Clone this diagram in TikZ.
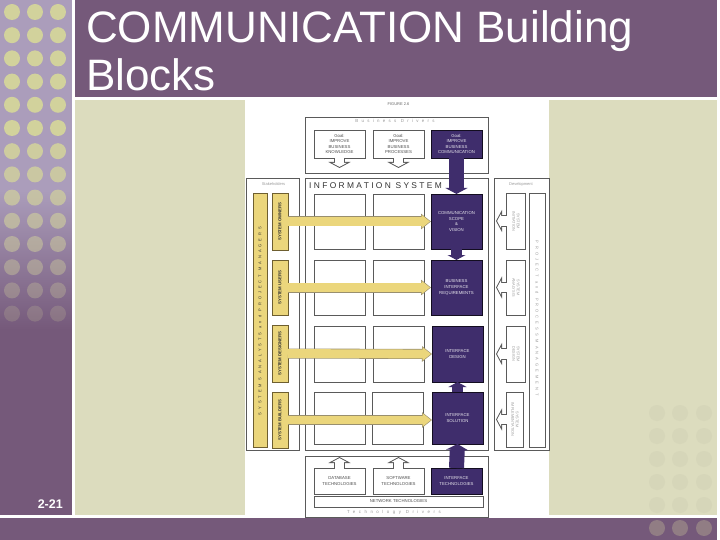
\documentclass[tikz,border=0pt]{standalone}
\usepackage{fontspec}
\setmainfont{Liberation Sans}
\usetikzlibrary{arrows.meta,positioning}
\definecolor{slide purple}{HTML}{75597A}
\definecolor{strip purple}{HTML}{AB9DBB}
\definecolor{slide beige}{HTML}{DCDCBE}
\definecolor{dot beige}{HTML}{D2D29C}
\definecolor{deep purple}{HTML}{3F2D6C}
\definecolor{soft yellow}{HTML}{EBD67C}
\definecolor{yellow edge}{HTML}{6E5F30}
\definecolor{frame grey}{HTML}{5A5A5A}
\definecolor{label grey}{HTML}{9A9A9A}
\tikzset {
  block node/.style = {
    rectangle,
    inner sep = 0,
    outer sep = 0,
    align = center
  },
  % frame round a group of boxes
  frame/.style = {
    block node,
    draw = frame grey,
    line width = 0.7pt,
    anchor = north west
  },
  % white box of one column
  plain/.style = {
    block node,
    draw = frame grey,
    fill = white,
    line width = 0.7pt,
    text = black!70,
    font = \fontsize{4.3}{5.6}\selectfont
  },
  % purple box of the communication column
  deep/.style = {
    block node,
    draw = black!70!deep purple,
    fill = deep purple,
    line width = 0.6pt,
    text = white!88!deep purple,
    font = \fontsize{4.3}{5.6}\selectfont
  },
  % stakeholder box
  role/.style = {
    block node,
    draw = yellow edge,
    fill = soft yellow,
    line width = 0.7pt,
    text = black!80,
    font = \fontsize{4.3}{4.5}\selectfont\bfseries
  },
  % development box
  phase/.style = {
    block node,
    draw = frame grey,
    fill = white,
    line width = 0.7pt,
    text = label grey,
    font = \fontsize{3.8}{4.6}\selectfont
  },
  size/.style 2 args = {
    minimum width = #1,
    minimum height = #2
  },
  spaced/.style 2 args = {
    inner sep = 0,
    font = \fontsize{#1}{#1}\selectfont\addfontfeature{LetterSpace=#2}
  },
  small label/.style = {
    inner sep = 0,
    text = label grey,
    font = \fontsize{4}{5}\selectfont
  },
  % filled arrow between purple boxes
  big arr/.style = {
    draw = deep purple,
    line width = 15pt,
    -{Triangle[length=6pt,width=22pt]}
  },
  small arr/.style = {
    draw = deep purple,
    line width = 10.5pt,
    -{Triangle[length=5pt,width=18pt]}
  },
  % outlined arrows
  yellow arr/.style = {
    draw = soft yellow,
    line width = 8.8pt,
    shorten > = 1pt,
    -{Triangle[length=8.4pt,width=12.6pt]},
    preaction = {
      draw = yellow edge!70,
      line width = 10pt,
      shorten > = 0pt,
      -{Triangle[length=10pt,width=15pt]}
    }
  },
  white arr/.style = {
    draw = white,
    line width = 9.6pt,
    shorten > = 1.14pt,
    shorten < = -1pt,
    -{Triangle[length=3.86pt,width=14.2pt]},
    preaction = {
      draw = frame grey,
      line width = 11.6pt,
      shorten > = 0pt,
      shorten < = 0pt,
      -{Triangle[length=6pt,width=22pt]}
    }
  }
}
\begin{document}
\begin{tikzpicture}[x=1pt,y=-1pt]
    \useasboundingbox (0,0) rectangle (720,540);

    % slide background
    \fill[white] (0,0) rectangle (720,540);
    \fill[strip purple] (0,0) rectangle (71.5,190);
    \shade[top color=strip purple,bottom color=slide purple] (0,190) rectangle (71.5,330);
    \fill[slide purple] (0,330) rectangle (71.5,515);
    \fill[slide purple] (74.5,0) rectangle (717,97);
    \fill[slide beige] (75,100) rectangle (717,515);
    \fill[slide purple] (0,518) rectangle (717,540);

    % dots
    \foreach \row in {0,...,13} {
      \pgfmathsetmacro{\fade}{\row<5 ? 1 : 1-(\row-5)*0.1}
      \foreach \col in {12,35,58} {
        \fill[dot beige,opacity=\fade] (\col,12+\row*23.2) circle (8);
      }
    }
    \foreach \row in {413,436,459,482,505} {
      \foreach \col in {657,680,704} {
        \fill[black!2.5!slide beige] (\col,\row) circle (8);
      }
    }
    \foreach \col in {657,680,704} {
      \fill[dot beige,opacity=0.3] (\col,528) circle (8);
    }

    \node[anchor=north west,inner sep=0,text=white,align=left,
      font=\fontsize{44}{48}\selectfont] (title) at (86,10) {COMMUNICATION Building\\Blocks};
    \node[anchor=base east,inner sep=0,text=white,
      font=\fontsize{12.5}{14}\selectfont\bfseries] (page) at (63,508) {2-21};

    % figure sheet
    \fill[white] (245,100) rectangle (549,516);
    \node[small label,text=black!60] (figure) at (398.5,104) {FIGURE 2.6};

    % business drivers
    \node[frame,size={183pt}{56pt}] (business) at (305,117) {};
    \node[spaced={4.4}{75},text=label grey] (business label) at (395,121) {Business Drivers};
    \node[plain,size={51pt}{28pt}] (goal a) at (339.5,144) {Goal:\\IMPROVE\\BUSINESS\\KNOWLEDGE};
    \node[plain,size={51pt}{28pt},right=8pt of goal a] (goal b) {Goal:\\IMPROVE\\BUSINESS\\PROCESSES};
    \node[deep,size={51pt}{28pt},right=7pt of goal b] (goal c) {Goal:\\IMPROVE\\BUSINESS\\COMMUNICATION};
    \coordinate (goal a tip) at (339.5,168);
    \coordinate (goal b tip) at (398.5,168);

    % information system
    \node[frame,size={183pt}{272pt}] (system) at (305,178) {};
    \node[anchor=west,spaced={8.4}{28},text=black!80] (system label) at (309,186) {INFORMATION SYSTEM};

    \node[plain,size={51pt}{55pt}] (data a) at (339.5,221.5) {};
    \node[plain,size={51pt}{55pt},right=8pt of data a] (proc a) {};
    \node[deep,size={51pt}{55pt},right=7pt of proc a] (scope) {COMMUNICATION\\SCOPE\\\&\\VISION};

    \node[plain,size={51pt}{55pt}] (data b) at (339.5,287.5) {};
    \node[plain,size={51pt}{55pt},right=8pt of data b] (proc b) {};
    \node[deep,size={51pt}{55pt},right=7pt of proc b] (requirements) {BUSINESS\\INTERFACE\\REQUIREMENTS};

    \node[plain,size={51pt}{56pt}] (data c) at (339.5,354) {};
    \node[plain,size={51pt}{56pt},right=8pt of data c] (proc c) {};
    \node[deep,size={51pt}{56pt},right=8pt of proc c] (design) {INTERFACE\\DESIGN};

    \node[plain,size={51pt}{52pt}] (data d) at (339.5,418) {};
    \node[plain,size={51pt}{52pt},right=7pt of data d] (proc d) {};
    \node[deep,size={51pt}{52pt},right=9pt of proc d] (solution) {INTERFACE\\SOLUTION};

    % stakeholders
    \node[frame,size={53pt}{272pt}] (stakeholders) at (246,178) {};
    \node[small label] (stakeholders label) at (273.5,184) {Stakeholders};
    \node[role,size={14pt}{254pt},anchor=north west] (managers) at (253,193) {};
    \node[rotate=90,spaced={4}{75},text=black!80] (managers label) at (260,321) {SYSTEMS ANALYSTS and PROJECT MANAGERS};
    \node[role,size={16pt}{57pt}] (owner) at (280,221.5) {\rotatebox{90}{SYSTEM OWNERS}};
    \node[role,size={16pt}{55pt}] (user) at (280,287.5) {\rotatebox{90}{SYSTEM USERS}};
    \node[role,size={16pt}{57pt}] (designer) at (280,353.5) {\rotatebox{90}{SYSTEM DESIGNERS}};
    \node[role,size={16pt}{56pt}] (builder) at (280,420) {\rotatebox{90}{SYSTEM BUILDERS}};

    % development
    \node[frame,size={55pt}{272pt}] (development) at (494,178) {};
    \node[small label] (development label) at (521,184) {Development};
    \node[phase,size={19pt}{56pt}] (initiation) at (515.5,221) {\rotatebox{-90}{\begin{tabular}{@{}c@{}}SYSTEM\\INITIATION\end{tabular}}};
    \node[phase,size={19pt}{55pt}] (analysis) at (515.5,287.5) {\rotatebox{-90}{\begin{tabular}{@{}c@{}}SYSTEM\\ANALYSIS\end{tabular}}};
    \node[phase,size={19pt}{56pt}] (desgn) at (515.5,354) {\rotatebox{-90}{\begin{tabular}{@{}c@{}}SYSTEM\\DESIGN\end{tabular}}};
    \node[phase,size={17pt}{55pt}] (implementation) at (514.5,419.5) {\rotatebox{-90}{\begin{tabular}{@{}c@{}}SYSTEM\\IMPLEMENTATION\end{tabular}}};
    \node[phase,size={16pt}{254pt},anchor=north west] (management) at (529,193) {};
    \node[rotate=-90,spaced={4}{75},text=label grey] (management label) at (537,318) {PROJECT and PROCESS MANAGEMENT};

    % technology drivers
    \node[frame,size={183pt}{61pt}] (technology) at (305,456) {};
    \node[spaced={4.4}{80},text=label grey] (technology label) at (394,512) {Technology Drivers};
    \node[plain,size={51pt}{26pt}] (database) at (339.5,481) {DATABASE\\TECHNOLOGIES};
    \node[plain,size={51pt}{26pt},right=8pt of database] (software) {SOFTWARE\\TECHNOLOGIES};
    \node[deep,size={51pt}{26pt},right=7pt of software] (interface) {INTERFACE\\TECHNOLOGIES};
    \node[plain,size={169pt}{11pt},anchor=north west] (network) at (314,496) {NETWORK TECHNOLOGIES};
    \coordinate (database tip) at (339.5,457);
    \coordinate (software tip) at (398.5,457);

    % down from the goals
    \draw[white arr] (goal a.south) -- (goal a tip);
    \draw[white arr] (goal b.south) -- (goal b tip);
    \draw[big arr] (goal c.south) -- (scope.north);

    % along the communication column
    \draw[small arr] (scope.south) -- (requirements.north);
    \draw[small arr] (solution.north) -- (design.south);
    \draw[big arr] (interface.north) -- (solution.south);

    % up from the technologies
    \draw[white arr] (database.north) -- (database tip);
    \draw[white arr] (software.north) -- (software tip);

    % across from the stakeholders
    \draw[yellow arr] (owner.east) -- (scope.west);
    \draw[yellow arr] (user.east) -- (requirements.west);
    \draw[yellow arr] (designer.east) -- (design.west);
    \draw[yellow arr] (builder.east) -- (solution.west |- builder.east);

    % back from the development phases
    \draw[white arr] (initiation.west) -- +(-10,0);
    \draw[white arr] (analysis.west) -- +(-10,0);
    \draw[white arr] (desgn.west) -- +(-10,0);
    \draw[white arr] (implementation.west) -- +(-10,0);
\end{tikzpicture}
\end{document}
